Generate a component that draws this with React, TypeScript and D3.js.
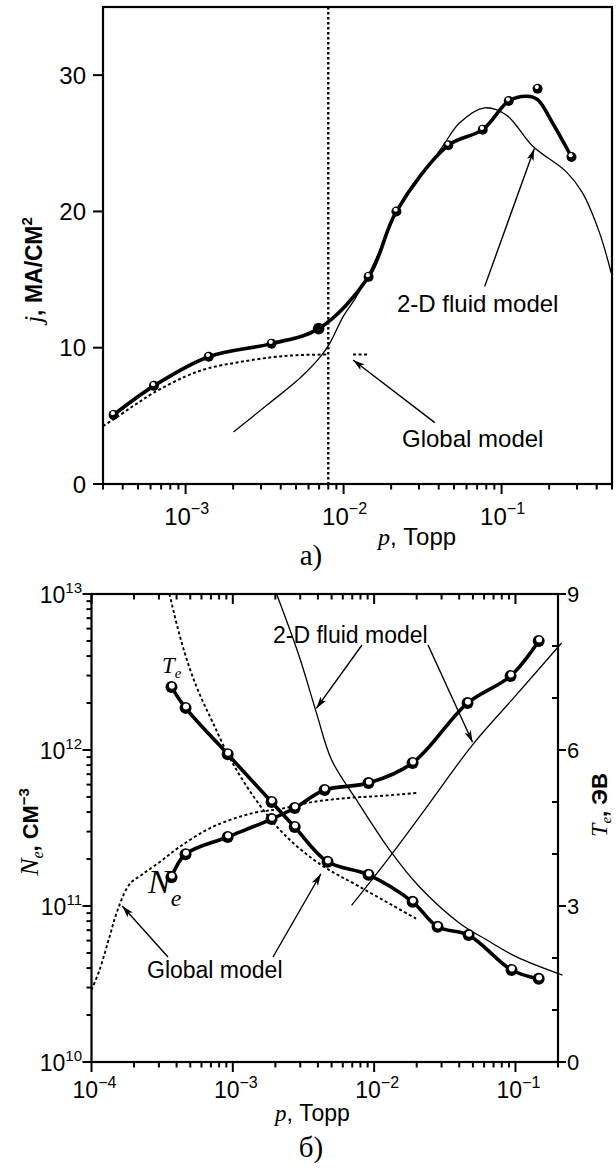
import React from 'react';
import * as d3 from 'd3';

const SANS = '"Liberation Sans", Arial, Helvetica, sans-serif';
const SERIF = '"Liberation Serif", "Times New Roman", Times, serif';

// ---------- Panel а: discharge current density j (мА/см²) vs pressure p (Торр)
const jTicks = [0, 10, 20, 30];
const pTicksA = [1e-3, 1e-2, 1e-1];
const pTickLabelsA = ['−3', '−2', '−1'];

// measured points
const measP = [3.5e-4, 6.3e-4, 1.4e-3, 3.5e-3, 6.95e-3, 0.0144, 0.0216, 0.046, 0.076, 0.111, 0.169, 0.277];
const measJ = [5.07, 7.2, 9.34, 10.3, 11.4, 15.2, 20.0, 24.85, 26.0, 28.1, 29.0, 24.0];
// smoothed trend through the measurements
const fitP = [3.5e-4, 6.3e-4, 1.4e-3, 3.5e-3, 6.95e-3, 0.0144, 0.0216, 0.046, 0.076, 0.111, 0.144, 0.169, 0.21, 0.277];
const fitJ = [5.07, 7.2, 9.34, 10.3, 11.4, 15.2, 20.0, 24.85, 26.0, 28.1, 28.45, 28.2, 26.5, 24.0];
// 2-D fluid model
const fluidP = [2.01e-3, 3.29e-3, 5.32e-3, 7.31e-3, 8.22e-3, 9.93e-3, 0.01183, 0.01428, 0.0175, 0.0218, 0.0271, 0.0337, 0.0425, 0.0543, 0.0782, 0.1076, 0.157, 0.257, 0.324, 0.415, 0.494];
const fluidJ = [3.82, 5.81, 7.79, 9.49, 10.37, 12.28, 13.6, 15.29, 17.5, 20.15, 21.9, 23.2, 24.8, 26.5, 27.6, 27.06, 24.8, 22.9, 21.4, 18.5, 15.5];
// global model
const globalP = [3.0e-4, 3.5e-4, 4.7e-4, 6.3e-4, 1.0e-3, 1.4e-3, 2.2e-3, 3.5e-3, 5.0e-3, 8.0e-3];
const globalJ = [4.25, 4.75, 5.75, 6.7, 7.9, 8.5, 8.95, 9.3, 9.45, 9.5];
const globalTailP = [0.01148, 0.0143];
const globalTailJ = [9.5, 9.5];
const thresholdP = 0.008;

// ---------- Panel б: electron density Ne and temperature Te vs pressure
const pTicksB = [1e-4, 1e-3, 1e-2, 1e-1];
const pTickLabelsB = ['−4', '−3', '−2', '−1'];
const neTicks = [1e10, 1e11, 1e12, 1e13];
const neTickLabels = ['10', '11', '12', '13'];
const teTicks = [0, 3, 6, 9];
const teMinorTicks = [1, 2, 4, 5, 7, 8];

const neP = [3.68e-4, 4.63e-4, 9.2e-4, 1.88e-3, 2.74e-3, 4.46e-3, 9.12e-3, 0.0187, 0.0458, 0.0923, 0.146];
const neV = [1.53e11, 2.15e11, 2.77e11, 3.61e11, 4.25e11, 5.54e11, 6.14e11, 8.26e11, 2.0e12, 2.98e12, 5.0e12];
const teP = [3.68e-4, 4.63e-4, 9.2e-4, 1.88e-3, 2.74e-3, 4.68e-3, 9.12e-3, 0.0187, 0.0281, 0.0466, 0.0938, 0.146];
const teV = [7.21, 6.81, 5.92, 5.0, 4.52, 3.85, 3.6, 3.08, 2.6, 2.44, 1.77, 1.6];

const neFluidP = [6.92e-3, 0.01285, 0.0247, 0.0497, 0.0986, 0.212];
const neFluidV = [1.01e11, 2.06e11, 4.57e11, 1.08e12, 2.19e12, 4.85e12];
const teFluidP = [2.04e-3, 2.96e-3, 3.91e-3, 5.0e-3, 7.5e-3, 0.01285, 0.0209, 0.0402, 0.0624, 0.1018, 0.215];
const teFluidV = [9.0, 7.79, 6.71, 5.81, 5.04, 4.08, 3.37, 2.67, 2.35, 2.02, 1.67];

const neGlobalP = [1e-4, 1.14e-4, 1.34e-4, 1.53e-4, 1.86e-4, 2.3e-4, 3.03e-4, 4.19e-4, 7.18e-4, 1.38e-3, 2.14e-3, 3.67e-3, 6.38e-3, 0.0109, 0.02];
const neGlobalV = [2.9e10, 3.89e10, 6.33e10, 9.42e10, 1.38e11, 1.6e11, 1.91e11, 2.39e11, 3.21e11, 3.94e11, 4.18e11, 4.64e11, 4.92e11, 5.07e11, 5.3e11];
const teGlobalP = [3.56e-4, 4.2e-4, 4.94e-4, 5.81e-4, 7.18e-4, 9.95e-4, 1.55e-3, 2.32e-3, 4.11e-3, 7.89e-3, 0.02];
const teGlobalV = [9.0, 8.21, 7.58, 7.08, 6.54, 5.75, 4.94, 4.37, 3.81, 3.37, 2.75];

// ---------- layout
const W = 616;
const H = 1171;
const FA = { left: 103, right: 612, top: 7, bottom: 484 };
const FB = { left: 91.5, right: 558, top: 594, bottom: 1062 };

const xA = d3.scaleLog().domain([3e-4, 0.5]).range([FA.left, FA.right]);
const yA = d3.scaleLinear().domain([0, 35]).range([FA.bottom, FA.top]);
const xB = d3.scaleLog().domain([1e-4, 0.2]).range([FB.left, FB.right]);
const yNe = d3.scaleLog().domain([1e10, 1e13]).range([FB.bottom, FB.top]);
const yTe = d3.scaleLinear().domain([0, 9]).range([FB.bottom, FB.top]);

type S = (v: number) => number;

function pathOf(xs: number[], ys: number[], sx: S, sy: S, smooth = true): string {
  const pts: [number, number][] = xs.map((p, i) => [sx(p), sy(ys[i])]);
  const gen = d3.line();
  if (smooth) gen.curve(d3.curveCatmullRom.alpha(0.5));
  return gen(pts) || '';
}

// minor ticks (2..9 × 10^n) inside a log domain
function logMinor(domain: [number, number]): number[] {
  const out: number[] = [];
  const lo = Math.floor(Math.log10(domain[0]));
  const hi = Math.ceil(Math.log10(domain[1]));
  for (let n = lo; n <= hi; n++) {
    for (let k = 2; k <= 9; k++) {
      const v = k * Math.pow(10, n);
      if (v >= domain[0] * 0.999 && v <= domain[1] * 1.001) out.push(v);
    }
  }
  return out;
}

function Pow10({ x, y, exp, size, sup, anchor = 'middle' }: { x: number; y: number; exp: string; size: number; sup: number; anchor?: string }) {
  return (
    <text x={x} y={y} textAnchor={anchor} fontFamily={SANS} fontSize={size} fill="#000">
      10<tspan dy={-size * 0.45} fontSize={sup}>{exp}</tspan>
    </text>
  );
}

function Ball({ cx, cy, r, hr, dx, dy }: { cx: number; cy: number; r: number; hr: number; dx: number; dy: number }) {
  return (
    <g>
      <circle cx={cx} cy={cy} r={r} fill="#000" />
      <circle cx={cx + dx} cy={cy + dy} r={hr} fill="#fff" />
    </g>
  );
}

function Arrow({ x1, y1, x2, y2 }: { x1: number; y1: number; x2: number; y2: number }) {
  return <line x1={x1} y1={y1} x2={x2} y2={y2} stroke="#000" strokeWidth={1.4} markerEnd="url(#arrowHead)" />;
}

export default function App() {
  const minorA = logMinor([3e-4, 0.5]).filter((v) => !pTicksA.includes(v));
  const minorB = logMinor([1e-4, 0.2]).filter((v) => !pTicksB.includes(v));
  const minorNe = logMinor([1e10, 1e13]);

  return (
    <svg width={W} height={H} viewBox={`0 0 ${W} ${H}`} style={{ position: 'absolute', left: 0, top: 0, background: '#fff' }}>
      <defs>
        <marker id="arrowHead" viewBox="0 0 12 8" refX={12} refY={4} markerWidth={12} markerHeight={7} markerUnits="userSpaceOnUse" orient="auto" preserveAspectRatio="none">
          <path d="M0,0 L12,4 L0,8 L3,4 z" fill="#000" />
        </marker>
      </defs>

      {/* ================= Panel а ================= */}
      <g>
        {/* threshold pressure */}
        <line x1={xA(thresholdP)} x2={xA(thresholdP)} y1={FA.top} y2={FA.bottom} stroke="#000" strokeWidth={2.4} strokeDasharray="2.5 2.5" />

        {/* global model */}
        <path d={pathOf(globalP, globalJ, xA, yA)} fill="none" stroke="#000" strokeWidth={2} strokeDasharray="3 2.5" />
        <path d={pathOf(globalTailP, globalTailJ, xA, yA, false)} fill="none" stroke="#000" strokeWidth={2} strokeDasharray="3 2.5" />

        {/* 2-D fluid model */}
        <path d={pathOf(fluidP, fluidJ, xA, yA)} fill="none" stroke="#000" strokeWidth={1.3} />

        {/* measured trend */}
        <path d={pathOf(fitP, fitJ, xA, yA)} fill="none" stroke="#000" strokeWidth={3.6} strokeLinecap="round" />
        {measP.map((p, i) =>
          i === 4 ? (
            <circle key={i} cx={xA(p)} cy={yA(measJ[i])} r={5.8} fill="#000" />
          ) : (
            <Ball key={i} cx={xA(p)} cy={yA(measJ[i])} r={5} hr={2.1} dx={-0.8} dy={-1.7} />
          )
        )}

        {/* frame */}
        <rect x={FA.left} y={FA.top} width={FA.right - FA.left} height={FA.bottom - FA.top} fill="none" stroke="#000" strokeWidth={2.2} />

        {/* x ticks */}
        {pTicksA.map((p) => (
          <line key={'M' + p} x1={xA(p)} x2={xA(p)} y1={FA.bottom} y2={FA.bottom + 10} stroke="#000" strokeWidth={2} />
        ))}
        {minorA.map((p) => (
          <line key={'m' + p} x1={xA(p)} x2={xA(p)} y1={FA.bottom} y2={FA.bottom + 5.5} stroke="#000" strokeWidth={2} />
        ))}
        {pTicksA.map((p, i) => (
          <Pow10 key={'L' + p} x={xA(p) + 1} y={525} exp={pTickLabelsA[i]} size={24} sup={16} />
        ))}

        {/* y ticks */}
        {jTicks.map((v) => (
          <g key={'y' + v}>
            <line x1={FA.left - 10} x2={FA.left} y1={yA(v)} y2={yA(v)} stroke="#000" strokeWidth={2} />
            <text x={86} y={yA(v) + 8.5} textAnchor="end" fontFamily={SANS} fontSize={24}>
              {v}
            </text>
          </g>
        ))}

        {/* axis titles */}
        <text x={378} y={545} fontFamily={SANS} fontSize={24}>
          <tspan fontFamily={SERIF} fontStyle="italic">p</tspan>, Торр
        </text>
        <text transform="translate(42,270) rotate(-90)" textAnchor="middle" fontFamily={SANS} fontSize={23}>
          <tspan fontFamily={SERIF} fontStyle="italic" fontSize={25}>j</tspan>
          <tspan fontWeight="bold">, </tspan>
          <tspan fontWeight="bold" style={{ textTransform: 'uppercase' }}>мА/см</tspan>
          <tspan dy={-10} fontSize={15} fontWeight="bold">2</tspan>
        </text>
        <text x={311} y={565} textAnchor="middle" fontFamily={SERIF} fontSize={29}>
          а)
        </text>

        {/* annotations */}
        <text x={397} y={312} fontFamily={SANS} fontSize={24}>
          2-D fluid model
        </text>
        <Arrow x1={xA(0.0782)} y1={yA(14.5)} x2={xA(0.161)} y2={yA(24.6)} />
        <text x={402} y={447} fontFamily={SANS} fontSize={24}>
          Global model
        </text>
        <Arrow x1={xA(0.0378)} y1={yA(4.5)} x2={xA(0.01148)} y2={yA(9.1)} />
      </g>

      {/* ================= Panel б ================= */}
      <g>
        {/* curve labels */}
        <text x={162} y={673} fontFamily={SERIF} fontStyle="italic" fontSize={23}>
          T<tspan dy={5} fontSize={15}>e</tspan>
        </text>
        <text x={148} y={893} fontFamily={SERIF} fontStyle="italic" fontSize={34}>
          N<tspan dy={13} fontSize={24}>e</tspan>
        </text>

        {/* global model */}
        <path d={pathOf(neGlobalP, neGlobalV, xB, yNe)} fill="none" stroke="#000" strokeWidth={1.9} strokeDasharray="3 2.5" />
        <path d={pathOf(teGlobalP, teGlobalV, xB, yTe)} fill="none" stroke="#000" strokeWidth={1.9} strokeDasharray="3 2.5" />

        {/* 2-D fluid model */}
        <path d={pathOf(neFluidP, neFluidV, xB, yNe)} fill="none" stroke="#000" strokeWidth={1.3} />
        <path d={pathOf(teFluidP, teFluidV, xB, yTe)} fill="none" stroke="#000" strokeWidth={1.3} />

        {/* measurements */}
        <path d={pathOf(neP, neV, xB, yNe)} fill="none" stroke="#000" strokeWidth={3.6} strokeLinecap="round" />
        <path d={pathOf(teP, teV, xB, yTe)} fill="none" stroke="#000" strokeWidth={3.6} strokeLinecap="round" />
        {neP.map((p, i) => (
          <Ball key={'n' + i} cx={xB(p)} cy={yNe(neV[i])} r={6} hr={3} dx={0.4} dy={-1.4} />
        ))}
        {teP.map((p, i) => (
          <Ball key={'t' + i} cx={xB(p)} cy={yTe(teV[i])} r={6} hr={3} dx={0.4} dy={-1.4} />
        ))}

        {/* frame */}
        <rect x={FB.left} y={FB.top} width={FB.right - FB.left} height={FB.bottom - FB.top} fill="none" stroke="#000" strokeWidth={2.2} />

        {/* x ticks, bottom (outward) and top (inward) */}
        {pTicksB.map((p) => (
          <g key={'MB' + p}>
            <line x1={xB(p)} x2={xB(p)} y1={FB.bottom} y2={FB.bottom + 10} stroke="#000" strokeWidth={2} />
            <line x1={xB(p)} x2={xB(p)} y1={FB.top} y2={FB.top + 10} stroke="#000" strokeWidth={2} />
          </g>
        ))}
        {minorB.map((p) => (
          <g key={'mB' + p}>
            <line x1={xB(p)} x2={xB(p)} y1={FB.bottom} y2={FB.bottom + 5.5} stroke="#000" strokeWidth={2} />
            <line x1={xB(p)} x2={xB(p)} y1={FB.top} y2={FB.top + 5.5} stroke="#000" strokeWidth={2} />
          </g>
        ))}
        {pTicksB.map((p, i) => (
          <Pow10 key={'LB' + p} x={xB(p) + 3} y={1098} exp={pTickLabelsB[i]} size={23} sup={16} />
        ))}

        {/* left log axis */}
        {neTicks.map((v) => (
          <line key={'Mn' + v} x1={FB.left - 9} x2={FB.left} y1={yNe(v)} y2={yNe(v)} stroke="#000" strokeWidth={2} />
        ))}
        {minorNe.map((v) => (
          <line key={'mn' + v} x1={FB.left - 5} x2={FB.left} y1={yNe(v)} y2={yNe(v)} stroke="#000" strokeWidth={2} />
        ))}
        {neTicks.map((v, i) => (
          <Pow10 key={'Ln' + v} x={82} y={yNe(v) + 9} exp={neTickLabels[i]} size={23} sup={15} anchor="end" />
        ))}

        {/* right linear axis */}
        {teTicks.map((v) => (
          <g key={'Mt' + v}>
            <line x1={FB.right} x2={FB.right + 8} y1={yTe(v)} y2={yTe(v)} stroke="#000" strokeWidth={2} />
            <text x={567} y={yTe(v) + 8} fontFamily={SANS} fontSize={22}>
              {v}
            </text>
          </g>
        ))}
        {teMinorTicks.map((v) => (
          <line key={'mt' + v} x1={FB.right - 6} x2={FB.right} y1={yTe(v)} y2={yTe(v)} stroke="#000" strokeWidth={2} />
        ))}

        {/* axis titles */}
        <text x={275} y={1121} fontFamily={SANS} fontSize={23}>
          <tspan fontFamily={SERIF} fontStyle="italic">p</tspan>, Торр
        </text>
        <text transform="translate(38,832) rotate(-90)" textAnchor="middle" fontFamily={SANS} fontSize={22}>
          <tspan fontFamily={SERIF} fontStyle="italic" fontSize={26}>N</tspan>
          <tspan fontFamily={SERIF} fontStyle="italic" fontSize={16} dy={5}>e</tspan>
          <tspan fontWeight="bold" dy={-5}>, </tspan>
          <tspan fontWeight="bold" style={{ textTransform: 'uppercase' }}>см</tspan>
          <tspan dy={-9} fontSize={15} fontWeight="bold">−3</tspan>
        </text>
        <text transform="translate(607,805) rotate(-90)" textAnchor="middle" fontFamily={SANS} fontSize={22}>
          <tspan fontFamily={SERIF} fontStyle="italic" fontSize={24}>T</tspan>
          <tspan fontFamily={SERIF} fontStyle="italic" fontSize={15} dy={3.5}>e</tspan>
          <tspan fontWeight="bold" dy={-3.5}>, </tspan>
          <tspan fontWeight="bold" style={{ textTransform: 'uppercase' }}>эВ</tspan>
        </text>
        <text x={311} y={1157} textAnchor="middle" fontFamily={SERIF} fontSize={29}>
          б)
        </text>

        {/* annotations */}
        <text x={273} y={643} fontFamily={SANS} fontSize={23}>
          2-D fluid model
        </text>
        <Arrow x1={362} y1={645} x2={xB(3.9e-3)} y2={yTe(6.8)} />
        <Arrow x1={428} y1={645} x2={xB(0.0497)} y2={yNe(1.12e12)} />
        <text x={147} y={978} fontFamily={SANS} fontSize={23}>
          Global model
        </text>
        <Arrow x1={168} y1={957} x2={xB(1.65e-4)} y2={yNe(1.0e11)} />
        <Arrow x1={273} y1={957} x2={xB(4.2e-3)} y2={yTe(3.62)} />
      </g>
    </svg>
  );
}
